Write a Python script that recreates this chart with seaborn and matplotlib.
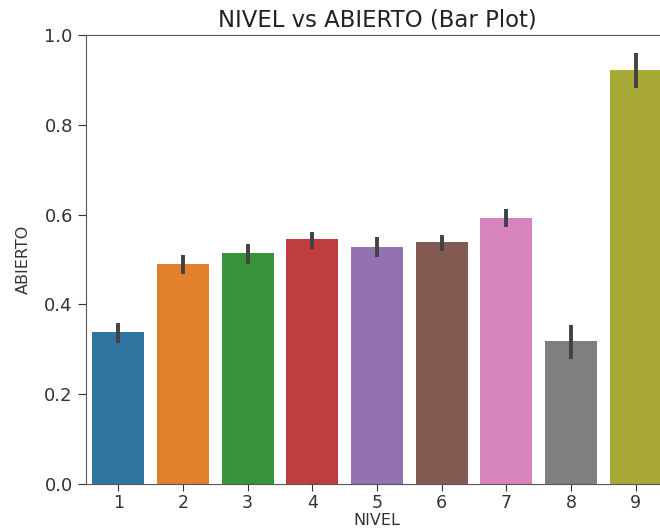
import pandas as pd
import seaborn as sns
import matplotlib
matplotlib.use("Agg")
import matplotlib.pyplot as plt

nivel = ['1', '2', '3', '4', '5', '6', '7', '8', '9']
abierto = [0.339, 0.490, 0.514, 0.546, 0.527, 0.538, 0.592, 0.318, 0.922]
ci_low = [0.315, 0.468, 0.490, 0.523, 0.505, 0.519, 0.573, 0.279, 0.882]
ci_high = [0.359, 0.509, 0.534, 0.561, 0.551, 0.555, 0.612, 0.355, 0.960]

df = pd.DataFrame({'NIVEL': nivel, 'ABIERTO': abierto})

fig = plt.figure(figsize=(6.6, 5.31), dpi=100)
# axes runs past the right edge like the cropped reference
ax = fig.add_axes([86 / 660, 47 / 531, 582 / 660, 449 / 531])

sns.barplot(data=df, x='NIVEL', y='ABIERTO', hue='NIVEL',
            palette=sns.color_palette('tab10', 9), legend=False,
            errorbar=None, ax=ax)
ax.vlines(range(len(nivel)), ci_low, ci_high, color='#424242', linewidth=2.8)

ax.set_xlim(-0.5, len(nivel) - 0.5)
ax.set_ylim(0, 1.0)
ax.set_title('NIVEL vs ABIERTO (Bar Plot)', fontsize=16.4, color='#222222')
ax.set_xlabel('NIVEL', fontsize=11.5, color='#333333', labelpad=1)
ax.set_ylabel('ABIERTO', fontsize=11.5, color='#333333', labelpad=10)
ax.tick_params(axis='y', labelsize=13, length=6, colors='#333333')
ax.tick_params(axis='x', labelsize=12.5, length=5, pad=2, colors='#333333')
for s in ax.spines.values():
    s.set_color('#555555')

plt.savefig('out.png', dpi=100)
